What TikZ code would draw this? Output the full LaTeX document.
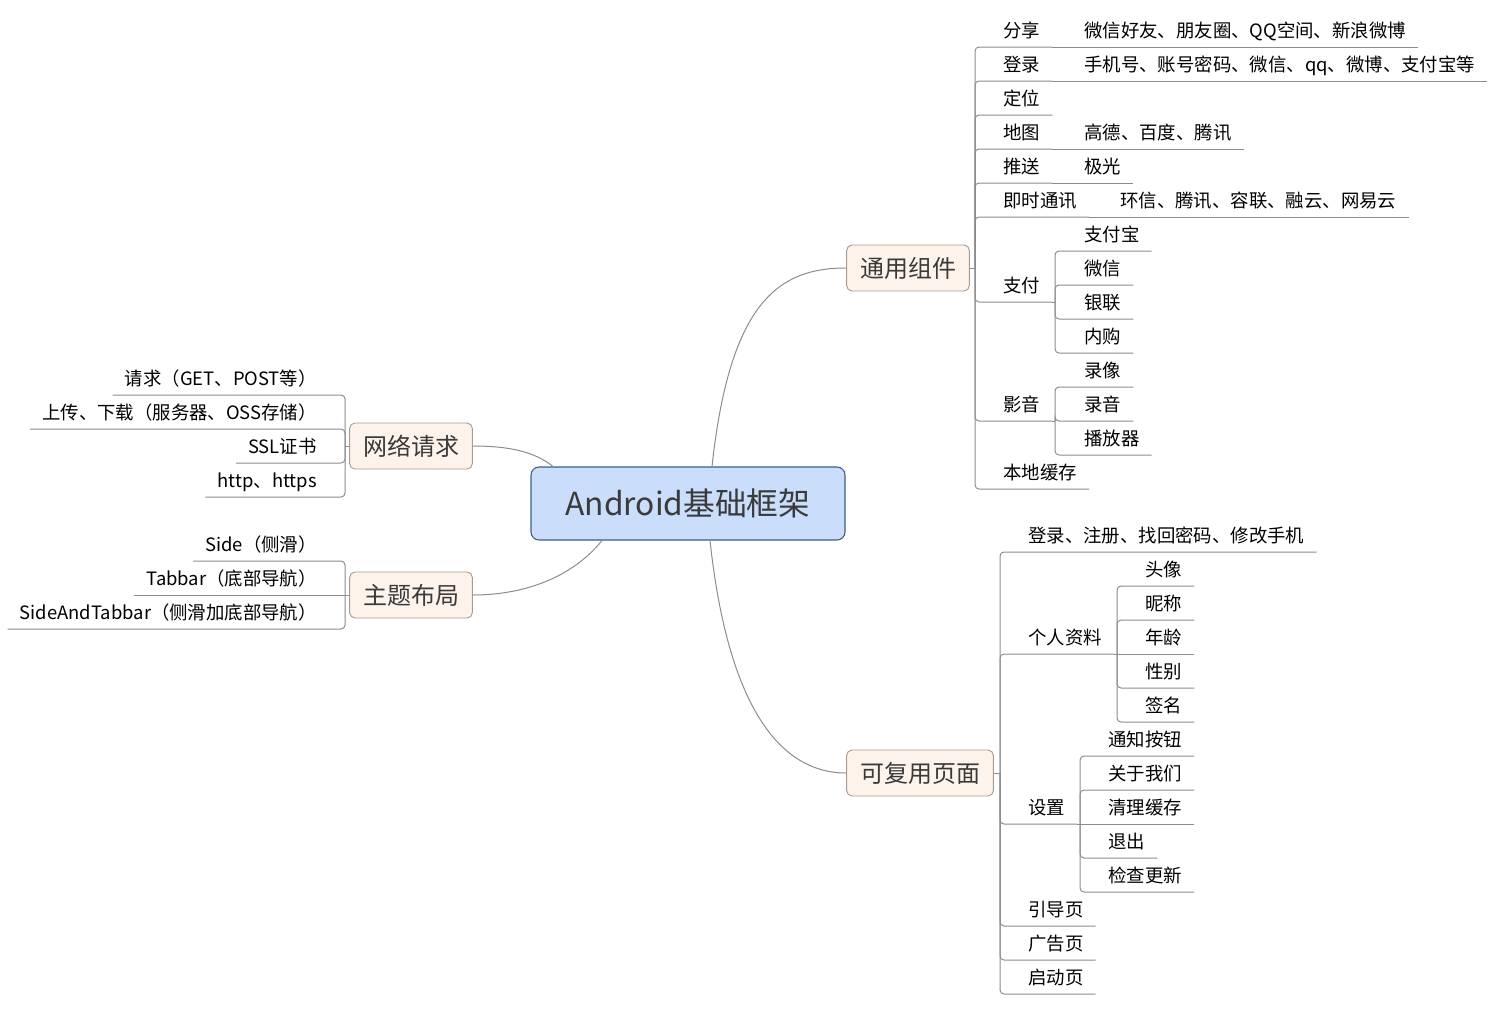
\documentclass[tikz,border=0pt]{standalone}
\usepackage{fontspec}
\setmainfont{Noto Sans CJK SC}
\usetikzlibrary{calc}
\definecolor{rootfill}{HTML}{CADDFB}
\definecolor{rootline}{HTML}{3F5A8C}
\definecolor{branchfill}{HTML}{FDF3EB}
\definecolor{branchline}{HTML}{A89C90}
\definecolor{linegray}{HTML}{8C8C8C}
\definecolor{textdark}{HTML}{3A3A3A}
\tikzset{
	root/.style={draw=rootline,fill=rootfill,rounded corners=6pt,text=textdark,font=\fontsize{23.8}{28}\selectfont,minimum width=235.5pt,minimum height=54.75pt,line width=0.8pt},
	branch/.style={draw=branchline,fill=branchfill,rounded corners=4pt,text=textdark,font=\fontsize{18}{21}\selectfont,minimum height=34.5pt,inner xsep=10pt,line width=0.7pt},
	leaf/.style={font=\fontsize{13.8}{16}\selectfont,inner xsep=9pt,inner ysep=4.2pt,text height=10.5pt,text depth=3pt},
	rleaf/.style={leaf,anchor=south west},
	lleaf/.style={leaf,anchor=south east},
	conn/.style={draw=linegray,line width=0.75pt},
	fork/.style={conn,rounded corners=3pt}
}
\begin{document}
\begin{tikzpicture}[x=0.75pt,y=-0.75pt]
	\useasboundingbox (0,0) rectangle (1506,1010);
	
	\node[root] (root) at (688,503.5) {Android基础框架};
	\node[branch] (ty) at (908,268) {通用组件};
	\node[branch] (kf) at (920,773) {可复用页面};
	\node[branch] (wl) at (411,446) {网络请求};
	\node[branch] (zt) at (411,595) {主题布局};
	
	\draw[conn] ($(root.north)+(24,0)$) .. controls (730,300) and (780,268) .. (ty.west);% to 通用组件
	\draw[conn] ($(root.south)+(22,0)$) .. controls (728,707) and (780,773) .. (kf.west);% to 可复用页面
	\draw[conn] ($(root.north)+(-135,0)$) .. controls (535,452) and (510,446) .. (wl.east);
	\draw[conn] ($(root.south)+(-86,0)$) .. controls (570,580) and (520,595) .. (zt.east);
	
	% 通用组件
	\coordinate (tybar) at (975,268);
	\draw[conn] (ty) -- (tybar);
	\node[rleaf] (fx) at (991,47) {分享};
	\node[rleaf] (dl) at (991,81) {登录};
	\node[rleaf] (dw) at (991,115) {定位};
	\node[rleaf] (dt) at (991,149) {地图};
	\node[rleaf] (ts) at (991,183) {推送};
	\node[rleaf] (js) at (991,217) {即时通讯};
	\node[rleaf] (zf) at (991,302) {支付};
	\node[rleaf] (yy) at (991,421) {影音};
	\node[rleaf] (hc) at (991,489) {本地缓存};
	\draw[fork] (tybar) |- (fx.south east);
	\draw[fork] (tybar) |- (dl.south east);
	\draw[fork] (tybar) |- (dw.south east);
	\draw[fork] (tybar) |- (dt.south east);
	\draw[fork] (tybar) |- (ts.south east);
	\draw[fork] (tybar) |- (js.south east);
	\draw[fork] (tybar) |- (zf.south east);
	\draw[fork] (tybar) |- (yy.south east);
	\draw[fork] (tybar) |- (hc.south east);
	
	\node[rleaf] (fxa) at (1072,47) {微信好友、朋友圈、QQ空间、新浪微博};
	\node[rleaf] (dla) at (1072,81) {手机号、账号密码、微信、qq、微博、支付宝等};
	\node[rleaf] (dta) at (1072,149) {高德、百度、腾讯};
	\node[rleaf] (tsa) at (1072,183) {极光};
	\node[rleaf] (jsa) at (1108,217) {环信、腾讯、容联、融云、网易云};
	\draw[conn] (fx.south east) -- (fxa.south east);
	\draw[conn] (dl.south east) -- (dla.south east);
	\draw[conn] (dt.south east) -- (dta.south east);
	\draw[conn] (ts.south east) -- (tsa.south east);
	\draw[conn] (js.south east) -- (jsa.south east);
	
	\coordinate (zfbar) at (1055,302);
	\draw[conn] (zf.south east) -- (zfbar);
	\node[rleaf] (zfb) at (1072,251) {支付宝};
	\node[rleaf] (wx) at (1072,285) {微信};
	\node[rleaf] (yl) at (1072,319) {银联};
	\node[rleaf] (ng) at (1072,353) {内购};
	\draw[fork] (zfbar) |- (zfb.south east);
	\draw[fork] (zfbar) |- (wx.south east);
	\draw[fork] (zfbar) |- (yl.south east);
	\draw[fork] (zfbar) |- (ng.south east);
	
	\coordinate (yybar) at (1055,421);
	\draw[conn] (yy.south east) -- (yybar);
	\node[rleaf] (lx) at (1072,387) {录像};
	\node[rleaf] (ly) at (1072,421) {录音};
	\node[rleaf] (bfq) at (1072,455) {播放器};
	\draw[fork] (yybar) |- (lx.south east);
	\draw[fork] (yybar) |- (ly.south east);
	\draw[fork] (yybar) |- (bfq.south east);
	
	% 网络请求
	\coordinate (wlbar) at (345,446);
	\draw[conn] (wl) -- (wlbar);
	\node[lleaf] (qq) at (329,395) {请求（GET、POST等）};
	\node[lleaf] (sc) at (329,429) {上传、下载（服务器、OSS存储）};
	\node[lleaf] (ssl) at (329,463) {SSL证书};
	\node[lleaf] (ht) at (329,497) {http、https};
	\draw[fork] (wlbar) |- (qq.south west);
	\draw[fork] (wlbar) |- (sc.south west);
	\draw[fork] (wlbar) |- (ssl.south west);
	\draw[fork] (wlbar) |- (ht.south west);
	
	% 主题布局
	\coordinate (ztbar) at (345,595);
	\draw[conn] (zt) -- (ztbar);
	\node[lleaf] (side) at (329,561) {Side（侧滑）};
	\node[lleaf] (tab) at (329,595) {Tabbar（底部导航）};
	\node[lleaf] (sat) at (329,629) {SideAndTabbar（侧滑加底部导航）};
	\draw[fork] (ztbar) |- (side.south west);
	\draw[conn] (ztbar) -- (tab.south west);
	\draw[fork] (ztbar) |- (sat.south west);
	
	% 可复用页面
	\coordinate (kfbar) at (1000,773);
	\draw[conn] (kf) -- (kfbar);
	\node[rleaf] (dlzc) at (1016,552) {登录、注册、找回密码、修改手机};
	\node[rleaf] (gr) at (1016,654) {个人资料};
	\node[rleaf] (sz) at (1016,824) {设置};
	\node[rleaf] (ydy) at (1016,926) {引导页};
	\node[rleaf] (ggy) at (1016,960) {广告页};
	\node[rleaf] (qdy) at (1016,994) {启动页};
	\draw[fork] (kfbar) |- (dlzc.south east);
	\draw[fork] (kfbar) |- (gr.south east);
	\draw[fork] (kfbar) |- (sz.south east);
	\draw[fork] (kfbar) |- (ydy.south east);
	\draw[fork] (kfbar) |- (ggy.south east);
	\draw[fork] (kfbar) |- (qdy.south east);
	
	\coordinate (grbar) at (1117,654);
	\draw[conn] (gr.south east) -- (grbar);
	\node[rleaf] (tx) at (1133,586) {头像};
	\node[rleaf] (nc) at (1133,620) {昵称};
	\node[rleaf] (nl) at (1133,654) {年龄};
	\node[rleaf] (xb) at (1133,688) {性别};
	\node[rleaf] (qm) at (1133,722) {签名};
	\draw[fork] (grbar) |- (tx.south east);
	\draw[fork] (grbar) |- (nc.south east);
	\draw[conn] (grbar) -- (nl.south east);
	\draw[fork] (grbar) |- (xb.south east);
	\draw[fork] (grbar) |- (qm.south east);
	
	\coordinate (szbar) at (1080,824);
	\draw[conn] (sz.south east) -- (szbar);
	\node[rleaf] (tz) at (1096,756) {通知按钮};
	\node[rleaf] (gy) at (1096,790) {关于我们};
	\node[rleaf] (ql) at (1096,824) {清理缓存};
	\node[rleaf] (tc) at (1096,858) {退出};
	\node[rleaf] (jc) at (1096,892) {检查更新};
	\draw[fork] (szbar) |- (tz.south east);
	\draw[fork] (szbar) |- (gy.south east);
	\draw[conn] (szbar) -- (ql.south east);
	\draw[fork] (szbar) |- (tc.south east);
	\draw[fork] (szbar) |- (jc.south east);
\end{tikzpicture}
\end{document}
